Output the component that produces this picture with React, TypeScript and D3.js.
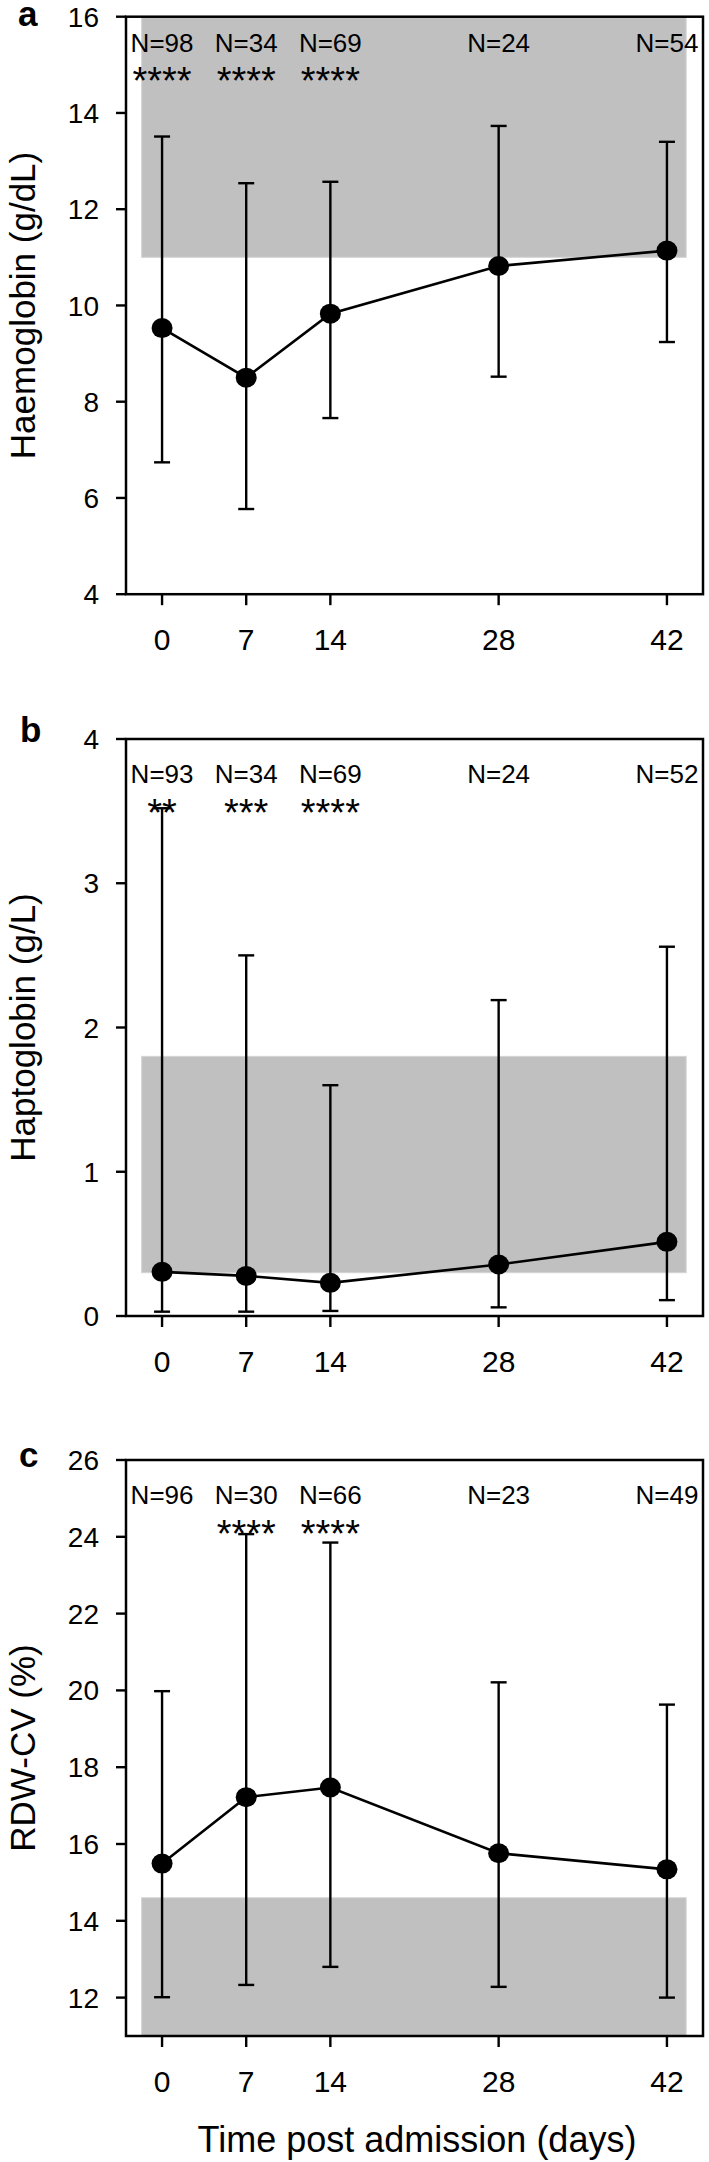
import React from "react";
import * as d3 from "d3";

// ---------- data ----------
const days = [0, 7, 14, 28, 42];
const xTicks = [0, 7, 14, 28, 42];
const bandDays = [-1.7, 43.6];

const hbMean = [9.53, 8.5, 9.83, 10.82, 11.14];
const hbUpper = [13.51, 12.54, 12.57, 13.73, 13.4];
const hbLower = [6.74, 5.77, 7.66, 8.52, 9.24];
const hbN = [98, 34, 69, 24, 54];
const hbStars = ["****", "****", "****", "", ""];
const hbTicks = [4, 6, 8, 10, 12, 14, 16];
const hbRange = [11, 16];

const hpMean = [0.306, 0.278, 0.23, 0.357, 0.514];
const hpUpper = [3.52, 2.5, 1.6, 2.19, 2.56];
const hpLower = [0.03, 0.03, 0.035, 0.06, 0.11];
const hpN = [93, 34, 69, 24, 52];
const hpStars = ["**", "***", "****", "", ""];
const hpTicks = [0, 1, 2, 3, 4];
const hpRange = [0.3, 1.8];

const rdwMean = [15.49, 17.22, 17.47, 15.76, 15.34];
const rdwUpper = [19.98, 24.07, 23.85, 20.21, 19.63];
const rdwLower = [12.01, 12.33, 12.8, 12.28, 12.0];
const rdwN = [96, 30, 66, 23, 49];
const rdwStars = ["", "****", "****", "", ""];
const rdwTicks = [12, 14, 16, 18, 20, 22, 24, 26];
const rdwRange = [11, 14.6];

const FONT = "'Liberation Sans', Arial, Helvetica, sans-serif";

type PanelProps = {
  label: string;
  title: string;
  top: number;
  height: number;
  domain: [number, number];
  ticks: number[];
  mean: number[];
  upper: number[];
  lower: number[];
  ns: number[];
  stars: string[];
  band: number[];
  nOffset: number;
  starOffset: number;
  labelY: number;
  labelX: number;
};

const LEFT = 126;
const RIGHT = 703;

const x = d3.scaleLinear().domain([-3, 45]).range([LEFT, RIGHT]);

function Panel(p: PanelProps) {
  const y = d3
    .scaleLinear()
    .domain(p.domain)
    .range([p.top + p.height, p.top]);
  const bottom = p.top + p.height;
  const line = d3
    .line<number>()
    .x((_, i) => x(days[i]))
    .y((d) => y(d));
  const cap = 8;
  return (
    <g>
      <rect
        x={x(bandDays[0])}
        y={y(p.band[1])}
        width={x(bandDays[1]) - x(bandDays[0])}
        height={y(p.band[0]) - y(p.band[1])}
        fill="#c0c0c0"
        stroke="#d4d4d4"
        strokeWidth={1}
      />
      {days.map((d, i) => (
        <g key={"e" + i} stroke="#000" strokeWidth={2.4}>
          <line x1={x(d)} x2={x(d)} y1={y(p.lower[i])} y2={y(p.upper[i])} />
          <line x1={x(d) - cap} x2={x(d) + cap} y1={y(p.upper[i])} y2={y(p.upper[i])} />
          <line x1={x(d) - cap} x2={x(d) + cap} y1={y(p.lower[i])} y2={y(p.lower[i])} />
        </g>
      ))}
      <path d={line(p.mean) || ""} fill="none" stroke="#000" strokeWidth={2.6} />
      {days.map((d, i) => (
        <ellipse key={"p" + i} cx={x(d)} cy={y(p.mean[i])} rx={10.5} ry={10} fill="#000" />
      ))}
      <rect
        x={LEFT}
        y={p.top}
        width={RIGHT - LEFT}
        height={p.height}
        fill="none"
        stroke="#000"
        strokeWidth={2.5}
      />
      {p.ticks.map((t) => (
        <g key={"yt" + t}>
          <line x1={LEFT - 10} x2={LEFT} y1={y(t)} y2={y(t)} stroke="#000" strokeWidth={2.4} />
          <text
            x={99}
            y={y(t)}
            dy="0.36em"
            textAnchor="end"
            fontSize={28}
            fontFamily={FONT}
          >
            {t}
          </text>
        </g>
      ))}
      {xTicks.map((t) => (
        <g key={"xt" + t}>
          <line x1={x(t)} x2={x(t)} y1={bottom} y2={bottom + 11} stroke="#000" strokeWidth={2.4} />
          <text
            x={x(t)}
            y={bottom + 56}
            textAnchor="middle"
            fontSize={30}
            fontFamily={FONT}
          >
            {t}
          </text>
        </g>
      ))}
      {days.map((d, i) => (
        <g key={"n" + i}>
          <text
            x={x(d)}
            y={p.top + p.nOffset}
            textAnchor="middle"
            fontSize={26}
            fontFamily={FONT}
          >
            {"N=" + p.ns[i]}
          </text>
          {p.stars[i] ? (
            <text
              x={x(d)}
              y={p.top + p.starOffset}
              textAnchor="middle"
              fontSize={38}
              fontFamily={FONT}
            >
              {p.stars[i]}
            </text>
          ) : null}
        </g>
      ))}
      <text
        x={p.labelX}
        y={p.labelY}
        fontSize={35}
        fontWeight="bold"
        fontFamily={FONT}
      >
        {p.label}
      </text>
      <text
        transform={`translate(35, ${p.top + p.height / 2}) rotate(-90)`}
        textAnchor="middle"
        fontSize={35}
        fontFamily={FONT}
      >
        {p.title}
      </text>
    </g>
  );
}

export default function App() {
  return (
    <svg
      width={709}
      height={2162}
      style={{ position: "absolute", left: 0, top: 0, background: "#fff" }}
    >
      <rect x={0} y={0} width={709} height={2162} fill="#fff" />
      <Panel
        label="a"
        title="Haemoglobin (g/dL)"
        top={16.7}
        height={577.5}
        domain={[4, 16]}
        ticks={hbTicks}
        mean={hbMean}
        upper={hbUpper}
        lower={hbLower}
        ns={hbN}
        stars={hbStars}
        band={hbRange}
        nOffset={35.5}
        starOffset={77.5}
        labelX={18}
        labelY={26}
      />
      <Panel
        label="b"
        title="Haptoglobin (g/L)"
        top={739}
        height={577}
        domain={[0, 4]}
        ticks={hpTicks}
        mean={hpMean}
        upper={hpUpper}
        lower={hpLower}
        ns={hpN}
        stars={hpStars}
        band={hpRange}
        nOffset={44}
        starOffset={86.5}
        labelX={20}
        labelY={742}
      />
      <Panel
        label="c"
        title="RDW-CV (%)"
        top={1460}
        height={576}
        domain={[11, 26]}
        ticks={rdwTicks}
        mean={rdwMean}
        upper={rdwUpper}
        lower={rdwLower}
        ns={rdwN}
        stars={rdwStars}
        band={rdwRange}
        nOffset={44}
        starOffset={86.5}
        labelX={19}
        labelY={1467}
      />
      <text
        x={417}
        y={2152}
        textAnchor="middle"
        fontSize={36}
        fontFamily={FONT}
      >
        Time post admission (days)
      </text>
    </svg>
  );
}
